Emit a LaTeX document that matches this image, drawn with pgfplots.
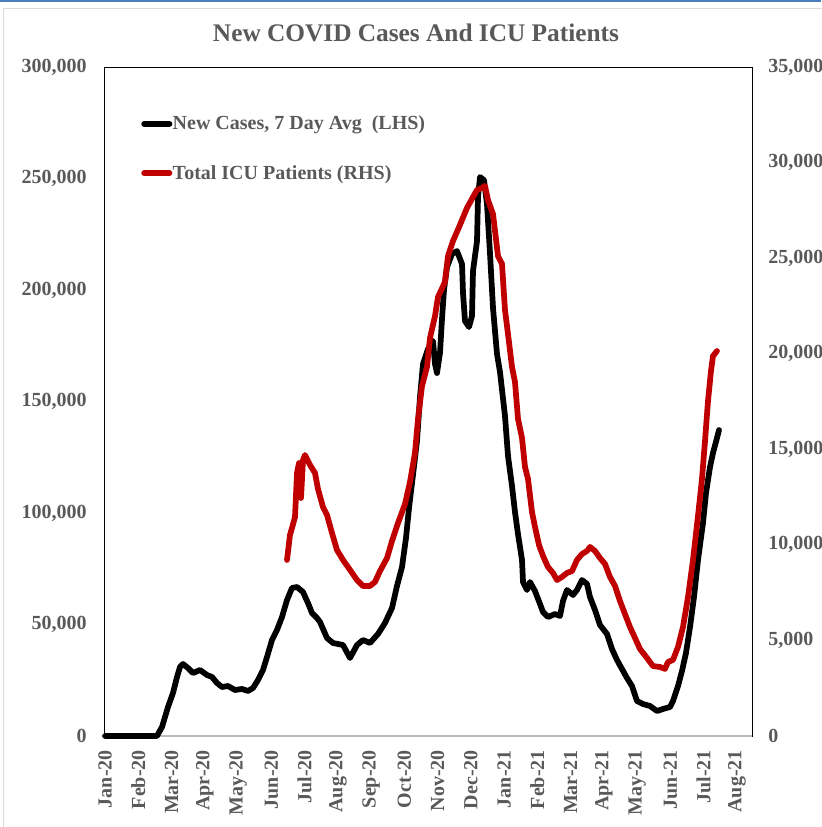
\documentclass[border=0pt]{standalone}
\usepackage{fontspec}
\setmainfont{Liberation Serif}
\usepackage{pgfplots}
\usepackage{pgfplotstable}
\pgfplotsset{compat=1.18}
\definecolor{txtgray}{HTML}{595959}
\definecolor{icured}{HTML}{C00000}
\definecolor{framegray}{HTML}{D9D9D9}
\definecolor{topblue}{HTML}{4A7EBB}

\pgfplotstableread{
m v
0 0
1.563 0
1.714 4040
1.894 13000
2.044 19280
2.165 26460
2.255 30940
2.345 32290
2.495 30490
2.646 28250
2.856 29590
3.067 27350
3.217 26460
3.367 23770
3.518 21970
3.698 22420
3.909 20630
4.119 21080
4.299 20180
4.450 21520
4.600 25110
4.750 29590
4.871 35420
5.021 43050
5.171 47530
5.322 53360
5.472 60980
5.622 66360
5.773 66810
5.953 64570
6.103 59640
6.224 55150
6.374 52910
6.464 51120
6.675 43940
6.855 41700
7.156 40800
7.366 34980
7.577 40800
7.757 43050
7.967 41700
8.208 45740
8.418 50670
8.629 57400
8.779 67260
8.930 75780
9.050 88780
9.140 102240
9.260 117030
9.381 132280
9.471 152010
9.561 166800
9.711 173530
9.862 177120
9.922 166800
9.982 162770
10.072 171740
10.132 186980
10.192 199990
10.283 210300
10.433 216130
10.583 217470
10.734 211640
10.764 198640
10.824 186090
10.944 183400
11.034 188330
11.064 208510
11.185 221960
11.215 241690
11.275 250660
11.395 249310
11.485 238550
11.575 216580
11.666 191920
11.786 171290
11.876 163220
12.026 143490
12.117 125550
12.237 112100
12.327 100440
12.417 90580
12.538 78920
12.568 69050
12.688 65470
12.778 69050
12.928 65020
13.079 59190
13.169 55600
13.319 53360
13.530 54700
13.680 53810
13.770 60530
13.890 65470
14.071 63220
14.191 65470
14.341 69950
14.492 68160
14.582 62330
14.732 56500
14.883 49770
15.093 45740
15.243 39010
15.394 34080
15.544 30040
15.694 26010
15.845 22420
15.995 15690
16.176 14350
16.386 13450
16.596 11210
16.777 12110
16.987 13000
17.077 15690
17.228 22420
17.348 29150
17.468 37220
17.589 48880
17.709 62330
17.829 78920
17.979 95510
18.070 108960
18.190 120620
18.280 126900
18.400 133620
18.461 137210
}\casesdata

\pgfplotstableread{
m v
5.472 9210
5.562 10520
5.622 10880
5.713 11460
5.773 13760
5.833 14280
5.893 12450
5.953 14440
6.013 14700
6.164 14180
6.314 13760
6.404 12920
6.554 11980
6.675 11560
6.825 10620
6.975 9730
7.156 9210
7.366 8690
7.577 8160
7.757 7850
7.967 7850
8.118 8060
8.268 8630
8.479 9310
8.629 10200
8.809 11140
9.020 12140
9.170 13290
9.320 14810
9.411 16590
9.531 18310
9.681 19310
9.771 20820
9.922 21970
10.012 22970
10.222 23750
10.313 25110
10.463 25900
10.673 26740
10.884 27630
11.034 28100
11.185 28570
11.335 28670
11.425 28780
11.515 28040
11.666 27310
11.816 25110
11.936 24700
12.026 22290
12.117 21030
12.237 19310
12.327 18520
12.417 16590
12.538 15590
12.628 14070
12.718 13450
12.838 11720
12.928 10940
13.049 9990
13.169 9420
13.319 8840
13.470 8530
13.590 8160
13.740 8320
13.890 8530
14.041 8630
14.191 9210
14.341 9520
14.492 9680
14.582 9890
14.732 9680
14.883 9310
15.033 9000
15.183 8320
15.334 7850
15.484 7060
15.634 6380
15.785 5700
15.935 5130
16.085 4550
16.296 4080
16.476 3660
16.687 3610
16.837 3510
16.927 3870
17.077 3980
17.228 4660
17.378 5700
17.529 7270
17.679 9210
17.829 11510
17.949 13450
18.040 15430
18.130 17530
18.220 19100
18.280 19880
18.400 20140
}\icudata

\begin{document}
\begin{tikzpicture}
\pgfplotsset{
  common/.style={
    scale only axis, width=486pt, height=501.75pt,
    xmin=-0.03, xmax=19.453, ymin=0,
    tick style={draw=none},
    major tick length=0pt,
    ticklabel style={font=\fontsize{15}{15}\selectfont\bfseries, text=txtgray, inner sep=0pt},
    scaled y ticks=false,
    clip=false,
  }
}
\begin{axis}[common,
  ymax=300000, ytick={0,50000,100000,150000,200000,250000,300000},
  yticklabels={0,{50,000},{100,000},{150,000},{200,000},{250,000},{300,000}},
  xtick={0,...,19},
  xticklabels={Jan-20,Feb-20,Mar-20,Apr-20,May-20,Jun-20,Jul-20,Aug-20,Sep-20,Oct-20,Nov-20,Dec-20,Jan-21,Feb-21,Mar-21,Apr-21,May-21,Jun-21,Jul-21,Aug-21},
  x tick label style={rotate=90, anchor=east},
  xticklabel shift=10.5pt,
  yticklabel style={anchor=east},
  yticklabel shift=12.75pt,
  axis line style={black, line width=0.7pt},
]
\coordinate (sw) at (rel axis cs:0,0);
\draw[gray!55, line width=1.4pt] (rel axis cs:0,0) -- (rel axis cs:1,0);
\addplot[black, line width=4.3pt, line join=round, line cap=round] table[x=m, y=v] {\casesdata};
\end{axis}
\begin{axis}[common,
  ymax=35000, ytick={0,5000,10000,15000,20000,25000,30000,35000},
  yticklabels={0,{5,000},{10,000},{15,000},{20,000},{25,000},{30,000},{35,000}},
  axis y line*=right, axis x line=none,
  yticklabel style={anchor=west},
  yticklabel shift=12pt,
  axis line style={black, line width=0.7pt},
  legend cell align=left,
  legend style={draw=none, fill=none, at={(axis description cs:0.0571,0.928)}, anchor=north west,
    font=\fontsize{15}{15}\selectfont\bfseries, text=txtgray, row sep=24.5pt, inner sep=0pt,
    nodes={inner sep=0.3pt}},
  legend image code/.code={\draw[#1, line cap=round] (1.5pt,0pt) -- (20.5pt,0pt);},
]
\addlegendimage{black, line width=4.3pt}
\addlegendentry{New Cases, 7 Day Avg~~(LHS)}
\addplot[icured, line width=4.3pt, line join=round, line cap=round] table[x=m, y=v] {\icudata};
\addlegendentry{Total ICU Patients (RHS)}
\end{axis}
\node[anchor=base, font=\fontsize{19}{19}\selectfont\bfseries, text=txtgray] at ([shift={(234pt,520.5pt)}]sw) {New COVID Cases And ICU Patients};
\draw[framegray, line width=0.8pt] ([shift={(-75.4pt,-70pt)}]sw) -- ([shift={(-75.4pt,545.6pt)}]sw) -- ([shift={(540pt,545.6pt)}]sw);
\fill[topblue] ([shift={(-78pt,550.4pt)}]sw) rectangle ([shift={(537.75pt,552pt)}]sw);
\pgfresetboundingbox
\path[use as bounding box] ([shift={(-78pt,-68.25pt)}]sw) rectangle ([shift={(537.75pt,552pt)}]sw);
\end{tikzpicture}
\end{document}
